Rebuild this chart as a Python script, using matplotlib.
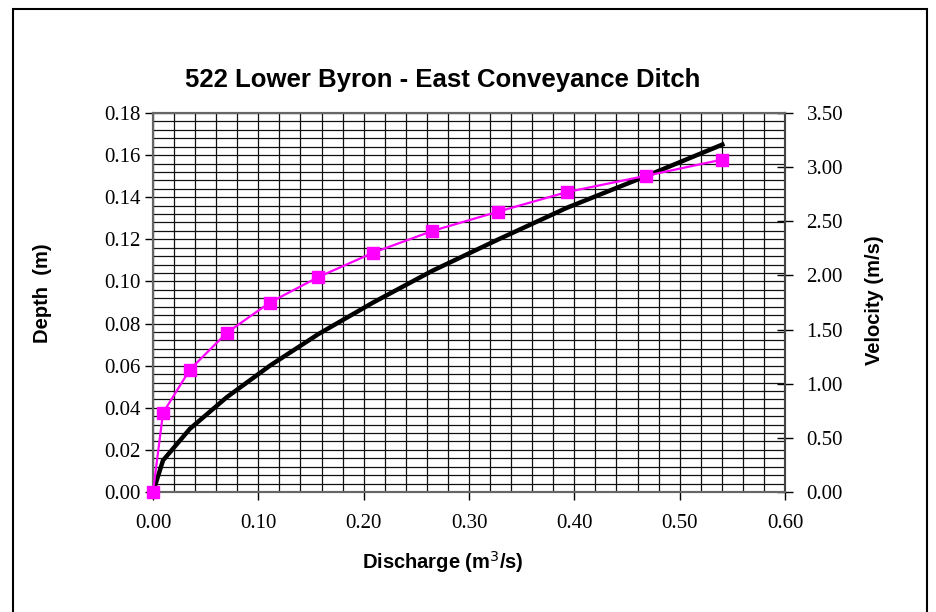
import matplotlib.pyplot as plt
from matplotlib.patches import Rectangle
from matplotlib.ticker import MultipleLocator, FormatStrFormatter

# rating data for the ditch section
discharge = [0.0, 0.0095, 0.035, 0.070, 0.111, 0.157, 0.209, 0.265, 0.328, 0.393, 0.468, 0.5405]
depth = [0.0, 0.015, 0.030, 0.045, 0.060, 0.075, 0.090, 0.105, 0.120, 0.135, 0.150, 0.165]
velocity = [0.0, 0.73, 1.13, 1.47, 1.75, 1.985, 2.21, 2.41, 2.59, 2.77, 2.92, 3.07]

serif = 'Liberation Serif'
sans = 'Liberation Sans'

fig = plt.figure(figsize=(9.37, 6.12), dpi=100)
W, H = 937.0, 612.0

# outer chart frame
fig.patches.append(Rectangle((13 / W, -0.05), 914 / W, 1.05 - 9 / H,
                             transform=fig.transFigure, fill=False,
                             edgecolor='black', linewidth=1.5))

ax = fig.add_axes([153 / W, 1 - 492 / H, 632 / W, 379 / H])
ax.plot(discharge, depth, color='black', linewidth=3.2, zorder=3)
ax.set_xlim(0, 0.6)
ax.set_ylim(0, 0.18)

ax.xaxis.set_major_locator(MultipleLocator(0.1))
ax.xaxis.set_minor_locator(MultipleLocator(0.02))
ax.yaxis.set_major_locator(MultipleLocator(0.02))
ax.yaxis.set_minor_locator(MultipleLocator(0.004))
ax.xaxis.set_major_formatter(FormatStrFormatter('%.2f'))
ax.yaxis.set_major_formatter(FormatStrFormatter('%.2f'))
ax.grid(which='both', color='#111111', linewidth=0.9)
ax.set_axisbelow(True)
ax.tick_params(which='minor', length=0)
ax.tick_params(which='major', direction='out', length=6, width=1,
               color='black', labelsize=15)
ax.tick_params(axis='y', pad=3)
ax.tick_params(axis='x', pad=10)
for lab in ax.get_xticklabels() + ax.get_yticklabels():
    lab.set_fontfamily(serif)
for s in ax.spines.values():
    s.set_color('#666666')
    s.set_linewidth(1.5)

ax2 = ax.twinx()
ax2.plot(discharge, velocity, color='#FF00FF', linewidth=1.6,
         marker='s', markersize=9, zorder=4, clip_on=False)
ax2.set_ylim(0, 3.5)
ax2.yaxis.set_major_locator(MultipleLocator(0.5))
ax2.yaxis.set_major_formatter(FormatStrFormatter('%.2f'))
ax2.tick_params(direction='inout', length=11, width=1, color='black',
                labelsize=15, pad=10)
for lab in ax2.get_yticklabels():
    lab.set_fontfamily(serif)
for s in ax2.spines.values():
    s.set_color('#666666')
    s.set_linewidth(1.5)
ax2.spines['right'].set_color('#444444')

fig.text(443 / W, 1 - 80 / H, '522 Lower Byron - East Conveyance Ditch',
         ha='center', va='center', fontsize=18.5, fontweight='bold', family=sans)
fig.text(443 / W, 1 - 562 / H, 'Discharge (m$^3$/s)',
         ha='center', va='center', fontsize=14.5, fontweight='bold', family=sans)
fig.text(43 / W, 1 - 293 / H, 'Depth  (m)', rotation=90,
         ha='center', va='center', fontsize=14.5, fontweight='bold', family=sans)
fig.text(875 / W, 1 - 300 / H, 'Velocity (m/s)', rotation=90,
         ha='center', va='center', fontsize=14.5, fontweight='bold', family=sans)

fig.savefig('out.png', dpi=100)
